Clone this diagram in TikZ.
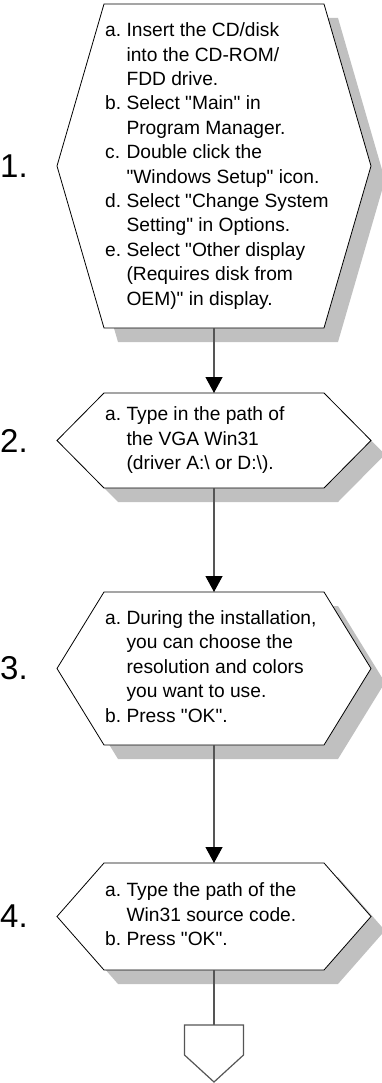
\documentclass[tikz,border=0pt]{standalone}
\usepackage{fontspec}
\setmainfont{Liberation Sans}[Ligatures=TeXOff]
\usetikzlibrary{positioning,arrows.meta}

\definecolor{shadowgray}{RGB}{192,192,192}
\definecolor{linkgray}{RGB}{85,85,85}

% hexagon round a frame node, shifted by #2
\newcommand{\hexpath}[2]{%
  ([shift={(#2,-#2)}]#1.north west) -- ([shift={(#2,-#2)}]#1.north east) --
  ([shift={(47pt+#2,-#2)}]#1.east) -- ([shift={(#2,-#2)}]#1.south east) --
  ([shift={(#2,-#2)}]#1.south west) -- ([shift={(-47pt+#2,-#2)}]#1.west) -- cycle}

\tikzset{
  stepframe/.style={draw=none, inner sep=0pt, outer sep=0pt, minimum width=220pt},
  hexline/.style={draw=black, fill=white, line width=0.8pt, line join=miter},
  steptext/.style={inner sep=0pt, font=\fontsize{19.2}{24.4}\selectfont},
  steplabel/.style={anchor=west, inner sep=0pt, font=\fontsize{33}{36}\selectfont},
  link/.style={draw=linkgray, line width=1.2pt, -{Triangle[width=17pt,length=16pt,color=black]}},
  linkplain/.style={draw=linkgray, line width=1.2pt},
  pageline/.style={draw=linkgray, fill=white, line width=1.2pt, line join=miter}
}

\begin{document}
\begin{tikzpicture}[x=1pt,y=-1pt]
  \useasboundingbox (0,0) rectangle (382,1083);

  \node[stepframe, minimum height=324pt] (s1) at (214,166) {};
  \node[stepframe, minimum height=95pt] (s2) at (214,440.5) {};
  \node[stepframe, minimum height=153pt] (s3) at (214,668.5) {};
  \node[stepframe, minimum height=107pt] (s4) at (214,916.5) {};

  \foreach \s in {s1,s2,s3,s4} {
    \fill[shadowgray] \hexpath{\s}{14pt};
    \draw[hexline] \hexpath{\s}{0pt};
  }

  \node[steptext, right=1pt of s1.west] (t1) {\begin{tabular}{@{}l@{\ }l@{}}
    a. & Insert the CD/disk\\
       & into the CD-ROM/\\
       & FDD drive.\\
    b. & Select "Main" in\\
       & Program Manager.\\
    c. & Double click the\\
       & "Windows Setup" icon.\\
    d. & Select "Change System\\
       & Setting" in Options.\\
    e. & Select "Other display\\
       & (Requires disk from\\
       & OEM)" in display.
  \end{tabular}};
  \node[steptext, right=1pt of s2.west] (t2) {\begin{tabular}{@{}l@{\ }l@{}}
    a. & Type in the path of\\
       & the VGA Win31\\
       & (driver A:\textbackslash{} or D:\textbackslash).
  \end{tabular}};
  \node[steptext, right=1pt of s3.west] (t3) {\begin{tabular}{@{}l@{\ }l@{}}
    a. & During the installation,\\
       & you can choose the\\
       & resolution and colors\\
       & you want to use.\\
    b. & Press "OK".
  \end{tabular}};
  \node[steptext, right=1pt of s4.west] (t4) {\begin{tabular}{@{}l@{\ }l@{}}
    a. & Type the path of the\\
       & Win31 source code.\\
    b. & Press "OK".
  \end{tabular}};

  \node[steplabel] (n1) at (0,0 |- s1) {1.};
  \node[steplabel] (n2) at (0,0 |- s2) {2.};
  \node[steplabel] (n3) at (0,0 |- s3) {3.};
  \node[steplabel] (n4) at (0,0 |- s4) {4.};

  \draw[link] (s1.south) -- (s2.north);
  \draw[link] (s2.south) -- (s3.north);
  \draw[link] (s3.south) -- (s4.north);

  % off-page connector
  \coordinate (off) at (214,1025);
  \draw[linkplain] (s4.south) -- (off);
  \draw[pageline] (off) -- ++(29.5,0) -- ++(0,30) -- ++(-29.5,27) -- ++(-29.5,-27) -- ++(0,-30) -- cycle;
\end{tikzpicture}
\end{document}
